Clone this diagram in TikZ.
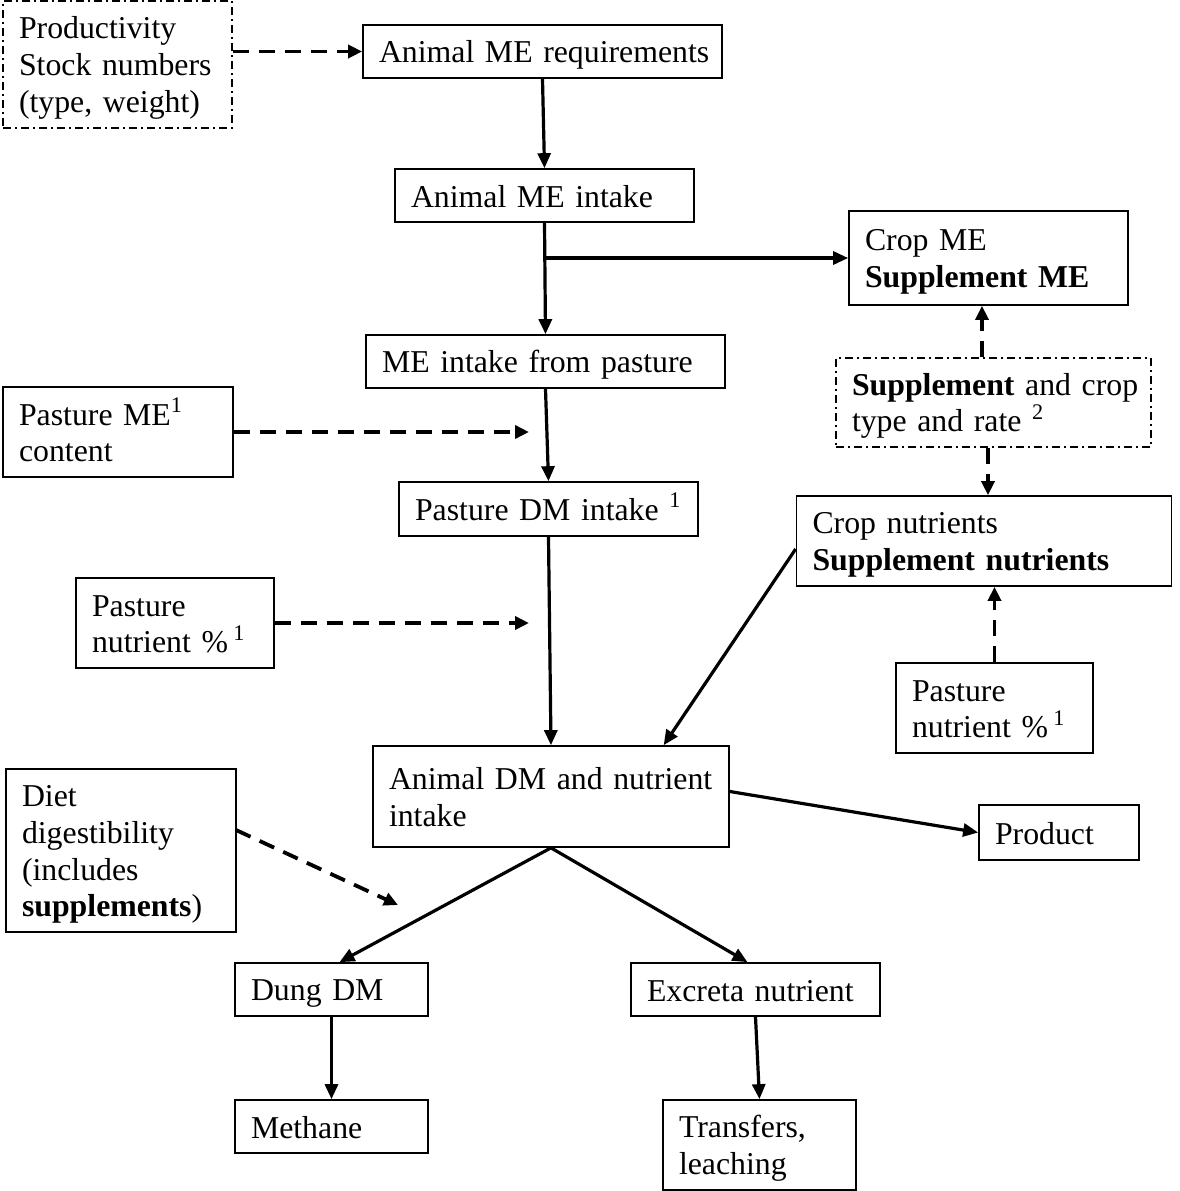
\documentclass[tikz,border=0pt]{standalone}
\usepackage{fontspec}
\setmainfont{Liberation Serif}
\usetikzlibrary{arrows.meta,calc}
\newcommand{\lineTxt}[1]{\mbox{\rule[-3pt]{0pt}{17.5pt}#1}}
\begin{document}
\begin{tikzpicture}[x=0.5pt,y=-0.5pt,
  box/.style={draw, line width=0.85pt, inner xsep=8pt, inner ysep=0pt, align=left,
    font=\fontsize{15.9pt}{18.4pt}\selectfont},
  ddbox/.style={box, line width=0.75pt, dash pattern=on 4pt off 2pt on 1pt off 2pt},
  arr/.style={-{Triangle[length=7.5pt,width=6.5pt]}, line width=1.6pt},
  darr/.style={-{Triangle[length=7pt,width=6.5pt]}, line width=1.9pt, dash pattern=on 8pt off 5pt}]
\useasboundingbox (0,0) rectangle (1180,1191);

\node[ddbox, text width=98.5pt, minimum height=63.5pt] (prod) at (117.5,64.5)
  {\lineTxt{Productivity}\\\lineTxt{Stock numbers}\\\lineTxt{(type, weight)}};
\node[box, text width=163.5pt, minimum height=26.5pt] (req) at (542.5,51.5) {\lineTxt{Animal ME requirements}};
\node[box, text width=133.5pt, minimum height=26.5pt] (intake) at (544.5,195.5) {\lineTxt{Animal ME intake}};
\node[box, text width=123.5pt, minimum height=47pt] (cropme) at (988.5,258) {\lineTxt{Crop ME}\\\lineTxt{\textbf{Supplement ME}}};
\node[box, text width=163.5pt, minimum height=26.5pt] (mepast) at (545.5,361.5) {\lineTxt{ME intake from pasture}};
\node[ddbox, text width=141.5pt, minimum height=44.5pt] (supp) at (993.5,402.5)
  {\lineTxt{\textbf{Supplement} and crop}\\\lineTxt{type and rate \textsuperscript{2}}};
\node[box, text width=99pt, minimum height=45pt] (pme) at (118,432) {\lineTxt{Pasture ME\textsuperscript{1}}\\\lineTxt{content}};
\node[box, text width=133.5pt, minimum height=27pt] (pdm) at (548.5,509) {\lineTxt{Pasture DM intake \textsuperscript{1}}};
\node[box, text width=171.5pt, minimum height=45pt] (cropnut) at (984,541)
  {\lineTxt{Crop nutrients}\\\lineTxt{\textbf{Supplement nutrients}}};
\node[box, text width=83pt, minimum height=45pt] (pnl) at (175,623) {\lineTxt{Pasture}\\\lineTxt{nutrient \%\,\textsuperscript{1}}};
\node[box, text width=82.5pt, minimum height=45pt] (pnr) at (994.5,708) {\lineTxt{Pasture}\\\lineTxt{nutrient \%\,\textsuperscript{1}}};
\node[box, text width=162pt, minimum height=50.5pt] (adm) at (551,796.5) {\lineTxt{Animal DM and nutrient}\\\lineTxt{intake}};
\node[box, text width=64pt, minimum height=27.5pt] (product) at (1059,832.5) {\lineTxt{Product}};
\node[box, text width=99pt, minimum height=81.5pt] (diet) at (121,850.5)
  {\lineTxt{Diet}\\\lineTxt{digestibility}\\\lineTxt{(includes}\\\lineTxt{\textbf{supplements})}};
\node[box, text width=80.5pt, minimum height=26.5pt] (dung) at (331.5,989.5) {\lineTxt{Dung DM}};
\node[box, text width=108.5pt, minimum height=26.5pt] (excreta) at (755.5,989.5) {\lineTxt{Excreta nutrient}};
\node[box, text width=80.5pt, minimum height=26.5pt] (methane) at (331.5,1126.5) {\lineTxt{Methane}};
\node[box, text width=80.5pt, minimum height=45pt] (transfers) at (759.5,1145) {\lineTxt{Transfers,}\\\lineTxt{leaching}};

% helper coordinates
\coordinate (xa) at (982,0);
\coordinate (xb) at (988,0);
\coordinate (br) at (intake.south |- cropme.west);
\coordinate (pmeend) at (529,432);
\coordinate (pnlend) at (529,623);
\coordinate (dietstart) at (236,830);
\coordinate (dietend) at (398,905);

% solid connectors
\draw[arr] (req.south) -- (intake.north);
\draw[arr] (intake.south) -- (mepast.north);
\draw[arr] (br) -- (cropme.west);
\draw[arr] (mepast.south) -- (pdm.north);
\draw[arr] (pdm.south) -- (adm.north);
\draw[arr] ($(cropnut.west)+(0,8)$) -- ($(adm.north west)!0.815!(adm.north east)$);
\draw[arr] ($(adm.east)+(0,-5)$) -- (product.west);
\draw[arr] (adm.south) -- ($(dung.north)+(8,0)$);
\draw[arr] (adm.south) -- ($(excreta.north)+(-8,0)$);
\draw[arr] (dung.south) -- (methane.north);
\draw[arr] (excreta.south) -- (transfers.north);

% dashed connectors
\draw[darr] (prod.east |- req.west) -- (req.west);
\draw[darr] (pme.east) -- (pmeend);
\draw[darr] (pnl.east) -- (pnlend);
\draw[darr] (supp.north -| xa) -- (cropme.south -| xa);
\draw[darr] (supp.south -| xb) -- (cropnut.north -| xb);
\draw[darr] (pnr.north) -- (cropnut.south -| pnr.north);
\draw[darr] (dietstart) -- (dietend);
\end{tikzpicture}
\end{document}
